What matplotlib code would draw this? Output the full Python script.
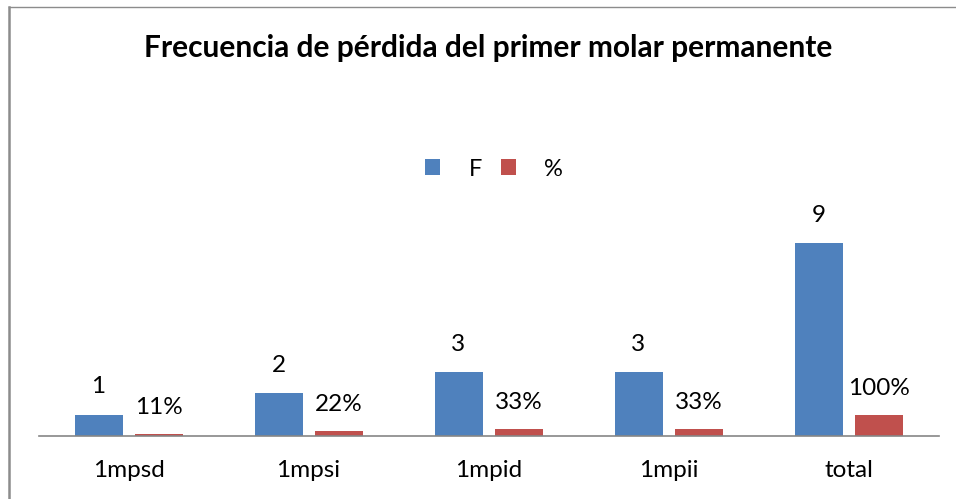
import matplotlib.pyplot as plt
import numpy as np
from matplotlib.lines import Line2D

plt.rcParams['font.family'] = ['Lato', 'DejaVu Sans']

categorias = ['1mpsd', '1mpsi', '1mpid', '1mpii', 'total']
frecuencia = [1, 2, 3, 3, 9]
porcentaje = [0.11, 0.22, 0.33, 0.33, 1.00]
etiquetas_pct = ['11%', '22%', '33%', '33%', '100%']

azul = '#4F81BD'
rojo = '#C0504D'

fig = plt.figure(figsize=(9.56, 4.99), dpi=100)
ax = fig.add_axes([38.5 / 956, 63 / 499, 900 / 956, 214 / 499])

x = np.arange(len(categorias))
ancho = 48 / 180
desp = 30 / 180

b1 = ax.bar(x - desp, frecuencia, ancho, color=azul, label='F')
b2 = ax.bar(x + desp, porcentaje, ancho, color=rojo, label='%')

for rect, v in zip(b1, frecuencia):
    ax.annotate(str(v), (rect.get_x() + rect.get_width() / 2, rect.get_height()),
                xytext=(0, 20), textcoords='offset points', ha='center', va='center',
                fontsize=17.5)
for rect, t in zip(b2, etiquetas_pct):
    ax.annotate(t, (rect.get_x() + rect.get_width() / 2, rect.get_height()),
                xytext=(0, 19), textcoords='offset points', ha='center', va='center',
                fontsize=17.5)

ax.set_xlim(-0.5, 4.5)
ax.set_ylim(0, 10)
ax.set_xticks(x)
ax.set_xticklabels(categorias, fontsize=17.5)
ax.tick_params(axis='x', length=0, pad=17)
ax.set_yticks([])
for s in ['top', 'right', 'left']:
    ax.spines[s].set_visible(False)
ax.spines['bottom'].set_color('#868686')
ax.spines['bottom'].set_linewidth(1.2)

fig.text(488 / 956, 1 - 48 / 499, 'Frecuencia de pérdida del primer molar permanente',
         ha='center', va='center', fontsize=21.5, fontweight='bold')

fig.legend(handles=[b1, b2], labels=['F', '%'], loc='center',
           bbox_to_anchor=(494 / 956, 1 - 169 / 499), ncol=2, frameon=False,
           fontsize=17, handlelength=0.65, handleheight=0.65, columnspacing=0.8,
           handletextpad=1.2)

# borde exterior del grafico
fig.add_artist(Line2D([9 / 956, 9 / 956], [0, 1 - 7 / 499], color='#8c8c8c', lw=1.8,
                      transform=fig.transFigure))
fig.add_artist(Line2D([9 / 956, 1], [1 - 7 / 499, 1 - 7 / 499], color='#8c8c8c', lw=1,
                      transform=fig.transFigure))

fig.savefig('out.png', dpi=100)
